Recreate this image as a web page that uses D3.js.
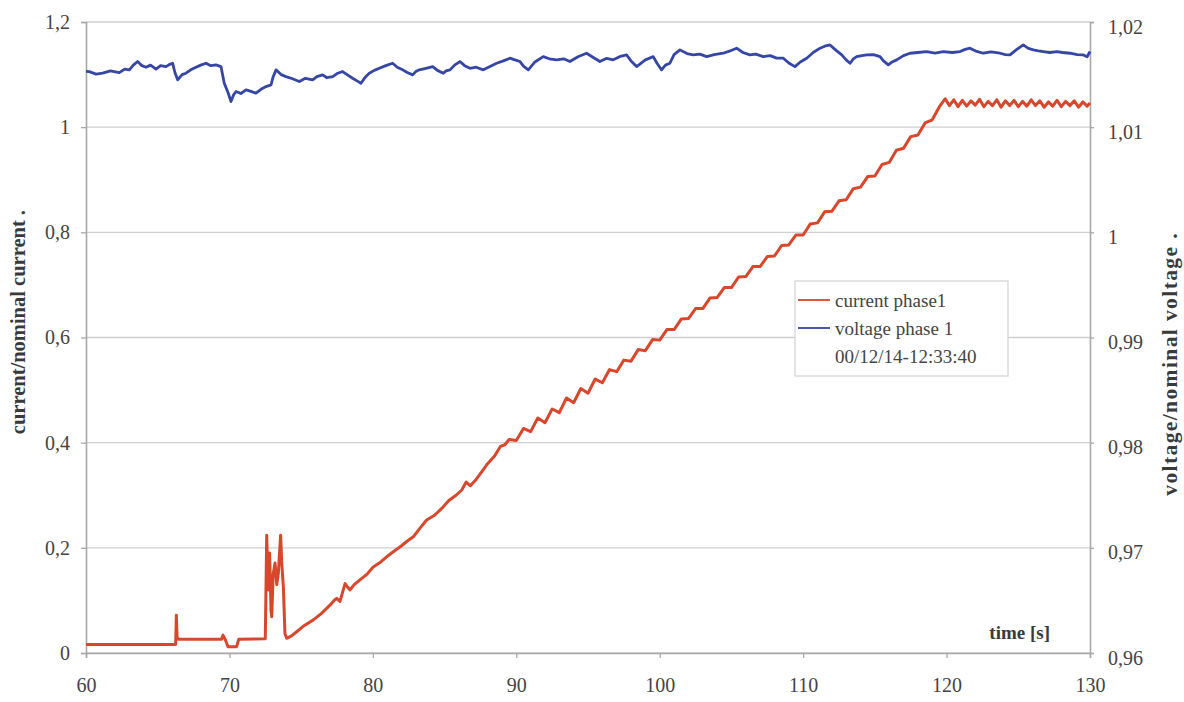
<!DOCTYPE html>
<html>
<head>
<meta charset="utf-8">
<script src="https://cdn.jsdelivr.net/npm/d3@7"></script>
<style>
  html, body { margin: 0; padding: 0; background: #ffffff; }
  svg { display: block; }
</style>
</head>
<body>
<svg id="chart" width="1184" height="702"></svg>
<script>
// ---------------- data ----------------
const timeTicks = [60, 70, 80, 90, 100, 110, 120, 130];
const currentTicks = [0, 0.2, 0.4, 0.6, 0.8, 1, 1.2];
const voltageTicks = [0.96, 0.97, 0.98, 0.99, 1, 1.01, 1.02];

const seriesNames = ["current phase1", "voltage phase 1"];
const legendNote = "00/12/14-12:33:40";

// current phase 1: [time s, current/nominal current]
const currentPoints = [
  [60, 0.016], [66.25, 0.016], [66.3, 0.072], [66.35, 0.03], [66.45, 0.026],
  [69.45, 0.026], [69.55, 0.034], [69.7, 0.026], [69.9, 0.012], [70.5, 0.012],
  [70.65, 0.026], [72.5, 0.027], [72.6, 0.224], [72.7, 0.12], [72.8, 0.19],
  [72.9, 0.08], [72.95, 0.069], [73.05, 0.15], [73.18, 0.171], [73.3, 0.13],
  [73.41, 0.152], [73.57, 0.224], [73.65, 0.17], [73.76, 0.126], [73.87, 0.037],
  [73.99, 0.028], [74.3, 0.032], [74.69, 0.0405], [75.2, 0.052], [75.85, 0.063],
  [76.4, 0.075], [77.01, 0.091], [77.3, 0.1], [77.48, 0.104], [77.71, 0.098],
  [78.06, 0.132], [78.25, 0.125], [78.41, 0.12], [78.7, 0.13], [79.1, 0.139],
  [79.6, 0.15], [80.0, 0.163], [80.5, 0.172], [80.96, 0.183], [81.5, 0.194],
  [82.0, 0.204], [82.4, 0.213], [82.82, 0.221], [83.3, 0.238], [83.75, 0.253],
  [84.3, 0.262], [84.8, 0.275], [85.3, 0.29], [85.8, 0.3], [86.2, 0.31],
  [86.5, 0.325], [86.8, 0.318], [87.2, 0.33], [87.6, 0.345], [88.0, 0.36],
  [88.5, 0.375], [88.9, 0.393], [89.2, 0.396],
  [89.5, 0.406], [90, 0.404], [90.5, 0.427], [91, 0.421], [91.5, 0.447],
  [92, 0.438], [92.5, 0.464], [93, 0.457], [93.5, 0.485], [94, 0.476],
  [94.5, 0.503], [95, 0.494], [95.5, 0.521], [96, 0.514], [96.5, 0.539],
  [97, 0.535], [97.5, 0.557], [98, 0.555], [98.5, 0.577], [99, 0.575],
  [99.5, 0.596], [100, 0.595], [100.5, 0.615], [101, 0.615], [101.5, 0.635],
  [102, 0.636], [102.5, 0.655], [103, 0.655], [103.5, 0.675], [104, 0.676],
  [104.5, 0.695], [105, 0.695], [105.5, 0.715], [106, 0.716], [106.5, 0.735],
  [107, 0.735], [107.5, 0.754], [108, 0.755], [108.5, 0.775], [109, 0.776],
  [109.5, 0.795], [110, 0.795], [110.5, 0.816], [111, 0.818], [111.5, 0.839],
  [112, 0.84], [112.5, 0.86], [113, 0.862], [113.5, 0.883], [114, 0.886],
  [114.5, 0.906], [115, 0.907], [115.5, 0.929], [116, 0.933], [116.5, 0.956],
  [117, 0.96], [117.5, 0.982], [118, 0.985], [118.5, 1.008], [119, 1.014],
  [119.5, 1.039], [119.9, 1.054],
  [120.2, 1.041], [120.5, 1.052], [120.8, 1.039], [121.1, 1.051], [121.4, 1.040],
  [121.7, 1.050], [122.0, 1.042], [122.3, 1.053], [122.6, 1.039], [122.9, 1.049],
  [123.2, 1.041], [123.5, 1.052], [123.8, 1.038], [124.1, 1.050], [124.4, 1.041],
  [124.7, 1.051], [125.0, 1.039], [125.3, 1.049], [125.6, 1.040], [125.9, 1.052],
  [126.2, 1.041], [126.5, 1.050], [126.8, 1.038], [127.1, 1.048], [127.4, 1.040],
  [127.7, 1.051], [128.0, 1.039], [128.3, 1.049], [128.6, 1.041], [128.9, 1.050],
  [129.2, 1.038], [129.5, 1.048], [129.8, 1.040], [130.0, 1.046]
];

// voltage phase 1: [time s, voltage/nominal voltage]
const voltagePoints = [
  [60.0, 1.01530], [60.23, 1.01528], [60.7, 1.01505], [61.16, 1.01513], [61.7, 1.01535],
  [62.32, 1.01519], [62.7, 1.01552], [63.02, 1.01545], [63.3, 1.01590], [63.60, 1.01624],
  [63.9, 1.01585], [64.18, 1.01570], [64.5, 1.01590], [64.88, 1.01551], [65.2, 1.01585],
  [65.58, 1.01576], [65.8, 1.01595], [66.04, 1.01608], [66.2, 1.01520], [66.39, 1.01450],
  [66.7, 1.01500], [66.97, 1.01513], [67.3, 1.01545], [67.67, 1.01570], [68.0, 1.01590],
  [68.37, 1.01608], [68.7, 1.01585], [69.06, 1.01592], [69.41, 1.01576], [69.64, 1.01418],
  [69.9, 1.01330], [70.11, 1.01243], [70.3, 1.01310], [70.46, 1.01339], [70.8, 1.01320],
  [71.16, 1.01354], [71.5, 1.01340], [71.85, 1.01323], [72.2, 1.01360], [72.55, 1.01386],
  [72.90, 1.01402], [73.05, 1.01480], [73.25, 1.01545], [73.6, 1.01500], [73.94, 1.01481],
  [74.4, 1.01460], [74.87, 1.01434], [75.3, 1.01465], [75.80, 1.01450], [76.1, 1.01480],
  [76.50, 1.01497], [76.8, 1.01470], [77.20, 1.01481], [77.5, 1.01510], [77.89, 1.01529],
  [78.2, 1.01500], [78.59, 1.01465], [78.9, 1.01440], [79.17, 1.01418], [79.5, 1.01480],
  [79.75, 1.01513], [80.1, 1.01540], [80.45, 1.01560], [80.9, 1.01585], [81.38, 1.01608],
  [81.7, 1.01570], [82.08, 1.01545], [82.4, 1.01520], [82.78, 1.01497], [83.0, 1.01530],
  [83.24, 1.01545], [83.7, 1.01560], [84.17, 1.01576], [84.5, 1.01540], [84.91, 1.01513],
  [85.1, 1.01535], [85.38, 1.01545], [85.7, 1.01590], [86.07, 1.01624], [86.4, 1.01585],
  [86.77, 1.01560], [87.2, 1.01570], [87.70, 1.01545], [88.2, 1.01580], [88.63, 1.01608],
  [89.1, 1.01630], [89.56, 1.01656], [89.9, 1.01640], [90.26, 1.01624], [90.5, 1.01580],
  [90.84, 1.01545], [91.3, 1.01620], [91.88, 1.01671], [92.3, 1.01650], [92.81, 1.01640],
  [93.3, 1.01650], [93.74, 1.01624], [94.3, 1.01670], [94.90, 1.01703], [95.4, 1.01660],
  [95.83, 1.01624], [96.3, 1.01655], [96.76, 1.01640], [97.2, 1.01670], [97.69, 1.01687],
  [98.0, 1.01630], [98.39, 1.01576], [99.0, 1.01640], [99.55, 1.01671], [99.8, 1.01610],
  [100.13, 1.01545], [100.4, 1.01590], [100.71, 1.01608], [101.0, 1.01690], [101.41, 1.01735],
  [101.9, 1.01700], [102.34, 1.01687], [102.8, 1.01695], [103.27, 1.01671], [103.8, 1.01690],
  [104.43, 1.01703], [104.9, 1.01725], [105.36, 1.01751], [105.8, 1.01710], [106.29, 1.01687],
  [106.7, 1.01695], [107.22, 1.01671], [107.7, 1.01680], [108.15, 1.01656], [108.62, 1.01656],
  [109.0, 1.01610], [109.43, 1.01576], [109.8, 1.01620], [110.25, 1.01656], [110.7, 1.01710],
  [111.18, 1.01751], [111.5, 1.01770], [111.87, 1.01782], [112.3, 1.01730], [112.69, 1.01687],
  [113.0, 1.01640], [113.27, 1.01608], [113.5, 1.01650], [113.73, 1.01671], [114.1, 1.01680],
  [114.43, 1.01687], [114.9, 1.01690], [115.36, 1.01671], [115.6, 1.01630], [115.94, 1.01592],
  [116.2, 1.01620], [116.52, 1.01640], [117.0, 1.01680], [117.45, 1.01703], [118.0, 1.01710],
  [118.61, 1.01719], [119.2, 1.01705], [119.77, 1.01719], [120.4, 1.01710], [120.94, 1.01719],
  [121.3, 1.01740], [121.63, 1.01751], [122.1, 1.01720], [122.56, 1.01703], [123.1, 1.01715],
  [123.73, 1.01703], [124.1, 1.01690], [124.42, 1.01687], [124.9, 1.01740], [125.35, 1.01782],
  [125.7, 1.01750], [126.05, 1.01735], [126.4, 1.01725], [126.75, 1.01719], [127.2, 1.01710],
  [127.68, 1.01719], [128.1, 1.01710], [128.61, 1.01703], [129.1, 1.01690], [129.54, 1.01687],
  [129.8, 1.01670], [130.0, 1.01719]
];

// ---------------- layout ----------------
const svg = d3.select("#chart");
const margin = { left: 86, right: 1090, top: 22, bottom: 653 };

const x = d3.scaleLinear().domain([60, 130]).range([margin.left, margin.right]);
const yL = d3.scaleLinear().domain([0, 1.2]).range([margin.bottom, margin.top]);
const yR = d3.scaleLinear().domain([0.96, 1.02]).range([margin.bottom, margin.top]);

const fmt = d => String(+d.toFixed(2)).replace(".", ",");
const fontFam = "'Liberation Serif', 'Times New Roman', serif";
const textCol = "#3a3a3a";

// gridlines
svg.append("g")
  .selectAll("line")
  .data(currentTicks)
  .join("line")
  .attr("x1", margin.left).attr("x2", margin.right)
  .attr("y1", d => yL(d)).attr("y2", d => yL(d))
  .attr("stroke", "#cfcfcf").attr("stroke-width", 1.3);

// left axis
const gL = svg.append("g")
  .attr("transform", `translate(${margin.left},0)`)
  .call(d3.axisLeft(yL).tickValues(currentTicks).tickFormat(fmt).tickSize(5).tickPadding(11));
// right axis
const gR = svg.append("g")
  .attr("transform", `translate(${margin.right},0)`)
  .call(d3.axisRight(yR).tickValues(voltageTicks).tickFormat(fmt).tickSize(4).tickPadding(14));
// bottom axis
const gB = svg.append("g")
  .attr("transform", `translate(0,${margin.bottom})`)
  .call(d3.axisBottom(x).tickValues(timeTicks).tickFormat(d3.format("d")).tickSize(5).tickPadding(20));

[gL, gR, gB].forEach(g => {
  g.select(".domain").attr("stroke", "#a8a8a8").attr("stroke-width", 1.6);
  g.selectAll(".tick line").attr("stroke", "#a8a8a8").attr("stroke-width", 1.3);
  g.selectAll(".tick text")
    .attr("font-family", fontFam)
    .attr("font-size", 20)
    .attr("fill", "#444");
});
gR.selectAll(".tick text").attr("dy", "0.55em");

// lines
const lineL = d3.line().x(d => x(d[0])).y(d => yL(d[1]));
const lineR = d3.line().x(d => x(d[0])).y(d => yR(d[1]));

svg.append("path")
  .datum(voltagePoints)
  .attr("d", lineR)
  .attr("fill", "none")
  .attr("stroke", "#3646a4")
  .attr("stroke-width", 2.8)
  .attr("stroke-linejoin", "round");

svg.append("path")
  .datum(currentPoints)
  .attr("d", lineL)
  .attr("fill", "none")
  .attr("stroke", "#d8472c")
  .attr("stroke-width", 3)
  .attr("stroke-linejoin", "round");

// axis titles
svg.append("text")
  .attr("transform", `translate(25,210) rotate(-90)`)
  .attr("text-anchor", "end")
  .attr("font-family", fontFam)
  .attr("font-weight", "bold")
  .attr("font-size", 20.5)
  .attr("fill", textCol)
  .text("current/nominal current .");

svg.append("text")
  .attr("transform", `translate(1177,232) rotate(-90)`)
  .attr("text-anchor", "end")
  .attr("font-family", fontFam)
  .attr("font-weight", "bold")
  .attr("font-size", 21.5)
  .attr("letter-spacing", 1.4)
  .attr("fill", textCol)
  .text("voltage/nominal voltage .");

svg.append("text")
  .attr("x", 1050).attr("y", 639)
  .attr("text-anchor", "end")
  .attr("font-family", fontFam)
  .attr("font-weight", "bold")
  .attr("font-size", 19)
  .attr("fill", textCol)
  .text("time [s]");

// legend
const lg = svg.append("g").attr("transform", "translate(795,281)");
lg.append("rect")
  .attr("width", 213).attr("height", 95)
  .attr("fill", "#ffffff").attr("stroke", "#d6d6d6").attr("stroke-width", 1.3);
const legendColors = ["#d8472c", "#3646a4"];
seriesNames.forEach((name, i) => {
  const yy = 19 + i * 28;
  lg.append("line")
    .attr("x1", 3).attr("x2", 35).attr("y1", yy).attr("y2", yy)
    .attr("stroke", legendColors[i]).attr("stroke-width", 1.8);
  lg.append("text")
    .attr("x", 40).attr("y", yy).attr("dy", "0.35em")
    .attr("font-family", fontFam).attr("font-size", 19).attr("fill", "#444")
    .text(name);
});
lg.append("text")
  .attr("x", 40).attr("y", 19 + 2 * 28).attr("dy", "0.35em")
  .attr("font-family", fontFam).attr("font-size", 19).attr("fill", "#444")
  .text(legendNote);
</script>
</body>
</html>
